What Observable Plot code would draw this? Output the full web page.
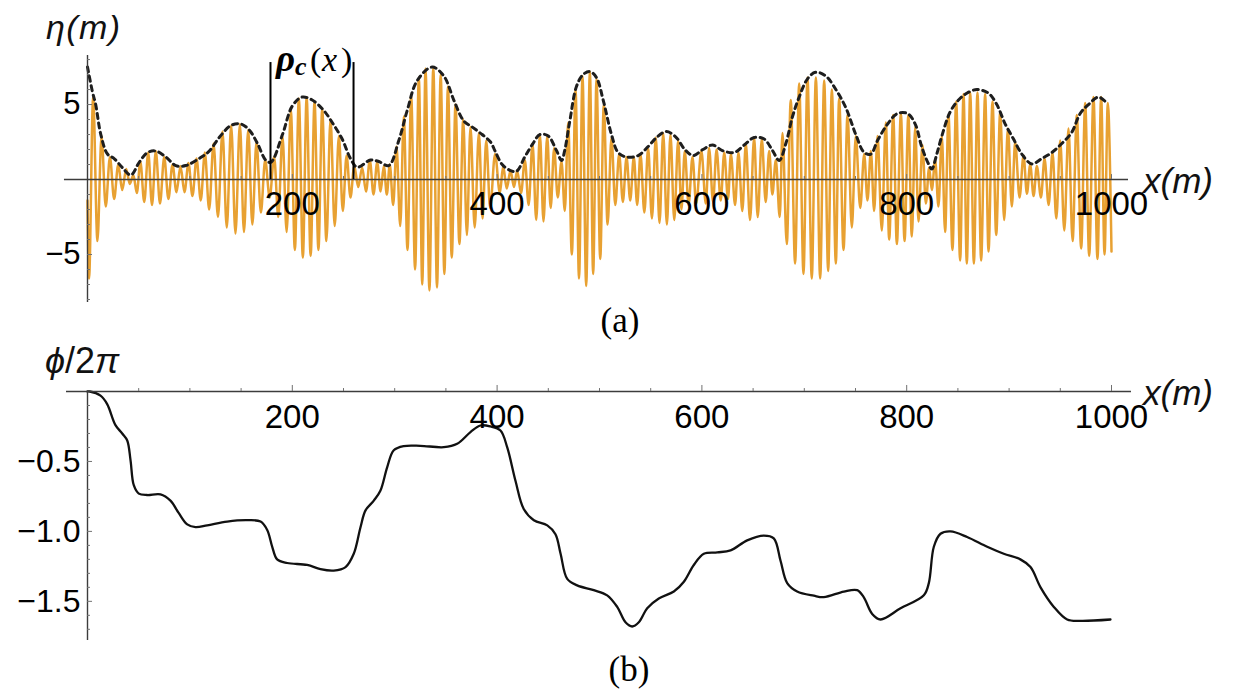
<!DOCTYPE html>
<html><head><meta charset="utf-8">
<script src="https://cdn.jsdelivr.net/npm/d3@7"></script>
<script src="https://cdn.jsdelivr.net/npm/@observablehq/plot@0.6"></script>
<style>
body{margin:0;background:#fff;}
#wrap{position:relative;width:1234px;height:695px;overflow:hidden;background:#fff;}
#pa{position:absolute;left:0;top:0;}
#pb{position:absolute;left:0;top:320px;}
#ov{position:absolute;left:0;top:0;pointer-events:none;}
</style></head><body>
<div id="wrap"><div id="pa"></div><div id="pb"></div>
<svg id="ov" width="1234" height="695">
  <text x="46" y="39" font-family="Liberation Sans, DejaVu Sans, Arial" font-style="italic" font-size="34" fill="#111" textLength="74">η(m)</text>
  <text x="1143" y="193" font-family="Liberation Sans, Arial" font-style="italic" font-size="35" fill="#111">x(m)</text>
  <text x="45" y="373" font-family="Liberation Sans, DejaVu Sans, Arial" font-size="36" fill="#111"><tspan font-style="italic">ϕ</tspan>/2<tspan font-style="italic">π</tspan></text>
  <text x="1143" y="405" font-family="Liberation Sans, Arial" font-style="italic" font-size="35" fill="#111">x(m)</text>
  <text x="620" y="332" text-anchor="middle" font-family="Liberation Serif, Times New Roman, serif" font-size="35" fill="#000">(a)</text>
  <text x="629" y="681" text-anchor="middle" font-family="Liberation Serif, Times New Roman, serif" font-size="35" fill="#000">(b)</text>
  <text y="71" font-family="Liberation Serif, Times New Roman, serif" fill="#000">
    <tspan x="276" font-size="37" font-weight="bold" font-style="italic">ρ</tspan><tspan x="295" dy="4" font-size="26" font-weight="bold" font-style="italic">c</tspan><tspan x="310" dy="-4" font-size="34">(</tspan><tspan x="322" font-size="34" font-style="italic">x</tspan><tspan x="341" font-size="34">)</tspan>
  </text>
</svg></div>
<script>
// ---------- panel (a): surface elevation ----------
// envelope rho(x) (dashed) [x m, eta m]
const envelope = [[0,7.5],[5,5.8],[8,5.0],[13,3.0],[19.5,1.7],[26,1.4],[34,0.8],[42.3,0.3],[50.5,1.15],[58.6,1.8],[66.7,1.9],[76.5,1.5],[86.3,0.93],[96,0.93],[109,1.4],[119,1.9],[128.6,2.8],[140,3.6],[149.7,3.7],[158,3.3],[166,2.4],[174,1.3],[179,1.15],[190.4,3.0],[200,4.9],[209.6,5.5],[219.4,5.3],[230.8,4.6],[239,3.8],[248.7,2.7],[256.8,1.4],[263.4,0.82],[276.4,1.3],[284.5,1.2],[294.2,0.93],[304,2.6],[312.2,4.6],[322,6.6],[336.6,7.5],[348,6.9],[357.7,5.3],[367.5,3.9],[375.7,3.5],[385.4,3.0],[393.6,2.5],[398,1.9],[405,1.0],[413,0.6],[419,0.55],[427,1.5],[435,2.4],[441.7,3.0],[450,2.9],[458,1.93],[463,1.27],[466,1.93],[471,3.9],[477.5,6.2],[484,7.0],[490.5,7.2],[497,6.8],[503.6,5.3],[511.7,3.0],[518.2,1.8],[526.4,1.5],[537.8,1.6],[547.5,2.2],[555.7,2.8],[565.4,3.2],[575,2.8],[583.3,2.0],[591.5,1.6],[601,2.0],[610.4,2.3],[620,1.93],[631.5,1.8],[641.3,2.3],[651,2.8],[660.8,2.7],[669,1.93],[675.5,1.27],[682,2.4],[688.5,4.2],[695,5.5],[703,6.7],[711,7.15],[721,6.9],[730.8,6.0],[740.5,4.8],[750.3,3.0],[758.5,1.8],[765,1.7],[771.5,2.6],[781.3,3.7],[791,4.4],[800.8,4.4],[808.3,3.7],[814.8,2.15],[821.3,1.04],[824.5,0.7],[829.4,1.7],[834.3,2.9],[842.4,4.5],[850.6,5.3],[858.7,5.75],[868.5,6.0],[879.9,5.75],[888,5.0],[896.2,3.7],[904.3,2.7],[912.4,1.7],[922.2,1.04],[932,1.4],[941.7,1.8],[951.5,2.4],[961.2,3.15],[969.4,4.4],[977.5,5.0],[987.3,5.5],[995.4,5.1]];

// extrema of the oscillating elevation eta(x) (orange) [x m, eta m]
const etaExtrema = [[0,-1.4],[1.5,-6.6],[5.5,5.5],[9.7,-4.1],[13.7,2.9],[17.8,-1.8],[21.9,1.5],[26,-1.3],[30,1.0],[33.9,-0.7],[37.8,0.7],[41.3,-0.3],[44.8,0.3],[48.2,-0.9],[51.6,1.2],[55.4,-1.5],[59.3,1.8],[63,-1.7],[66.7,1.9],[70.8,-1.6],[74.9,1.5],[79,-1.3],[83,1.0],[86.9,-0.85],[90.8,0.9],[94.7,-0.85],[98.6,1.1],[102.5,-1.1],[106.5,1.4],[110.6,-1.4],[114.6,1.8],[118.8,-2.0],[123.1,2.4],[127.4,-2.5],[131.8,3.2],[136,-3.2],[140.3,3.6],[144.5,-3.6],[148.8,3.7],[152.8,-3.5],[156.9,3.3],[161,-3.0],[165,2.5],[169.3,-2.2],[173.5,1.3],[177.9,-1.2],[182.3,1.5],[186.3,-2.5],[190.4,2.9],[194.5,-3.5],[198.6,4.6],
[202.5,-4.7],[206.4,5.4],[210.3,-5.2],[214,5.5],[217.9,-5.1],[221.7,5.2],[225.5,-4.7],[229.2,4.7],[233.3,-4.1],[237.3,4.0],[241.4,-3.1],[245.5,2.9],[249.3,-2.1],[253,1.6],[256.8,-1.2],[260.5,0.9],[264.4,-0.5],[268.2,0.8],[272,-0.8],[275.7,1.3],[279.3,-1.0],[282.9,1.15],[286.2,-0.8],[289.4,0.9],[292.3,-1.0],[295.2,1.0],[298.5,-1.7],[301.8,2.2],[305.4,-3.1],[308.9,4.2],[312.5,-4.7],[316.1,5.6],[319.9,-6.0],[323.6,6.8],[326.9,-7.0],[330.1,7.4],[333.9,-7.4],[337.7,7.5],[341.3,-7.2],[344.9,7.0],[348.5,-6.3],[352,6.2],[355.7,-5.2],[359.4,5.0],[363.2,-4.3],[366.9,4.0],[370.5,-3.7],[374,3.5],[378.1,-3.2],[382.2,3.1],[385.8,-2.6],[389.4,2.6],[393.2,-1.9],[398,1.7],
[402.7,-0.9],[405.9,0.9],[409.4,-0.6],[413.1,0.6],[416.5,-0.5],[419.6,0.6],[423.4,-0.9],[427.1,1.3],[430.8,-1.7],[434.6,2.4],[438.2,-2.7],[441.8,3.0],[445.3,-2.8],[448.9,2.9],[452.3,-1.9],[455.7,2.1],[459.2,-1.2],[462.9,1.2],[466.1,-2.1],[469.4,3.8],[473,-5.0],[476.6,6.0],[480,-6.6],[483.4,6.9],[487,-7.1],[490.6,7.2],[493.8,-6.3],[497.1,6.7],[500.7,-5.3],[504.2,5.0],[507.9,-3.0],[511.7,2.8],[515.4,-1.7],[519.2,1.7],[522.8,-1.5],[526.4,1.5],[530,-1.4],[533.5,1.5],[536.8,-1.7],[540,1.7],[543.8,-2.2],[547.5,2.1],[551.2,-2.6],[555,2.8],[558.6,-2.9],[562.2,3.1],[565.8,-3.0],[569.3,3.0],[573,-2.7],[576.8,2.6],[580,-2.0],[583.3,1.9],[587,-1.7],[590.8,1.5],[594.4,-1.6],[599.5,1.9],
[603.8,-1.6],[607,2.1],[610.9,-1.5],[614.3,2.0],[618.4,-1.4],[621.8,1.8],[625.5,-1.3],[628.3,1.7],[632.4,-1.7],[635.7,1.8],[639.5,-2.1],[642.9,2.4],[647,-2.7],[651,2.8],[654.5,-2.5],[658.5,2.7],[662.3,-1.5],[665.7,1.9],[668.8,-1.0],[672.2,1.3],[676,-2.5],[678.7,3.1],[682.9,-4.3],[686.8,5.3],[691,-5.6],[695,6.4],[699.2,-6.3],[703.1,6.8],[707.3,-6.6],[711.3,6.8],[715.5,-6.6],[719.4,6.6],[723.3,-6.1],[726.9,6.0],[730.8,-5.6],[734,5.4],[738.3,-4.7],[742.2,4.3],[746.4,-3.2],[750.3,2.9],[754.6,-1.9],[758.5,1.7],[761.7,-1.4],[765,1.9],[768.2,-2.1],[771.5,2.9],[775.7,-3.4],[779.6,3.8],[782.9,-4.0],[786.8,4.3],[790.4,-4.3],[794.3,4.4],[797.9,-4.1],[801.6,4.3],
[805,-3.8],[808.3,3.5],[811.5,-2.8],[815.4,2.3],[818.7,-1.6],[821.9,0.8],[824.5,-0.7],[827.8,1.3],[831,-1.8],[834.3,2.9],[837.5,-3.5],[840.8,4.3],[844.7,-4.7],[848.3,5.2],[852.2,-5.4],[855.5,5.7],[858.7,-5.6],[862,5.8],[865.6,-5.6],[869.1,5.8],[872.7,-5.4],[876.6,5.7],[879.9,-4.8],[883.8,5.2],[887.4,-3.7],[891.3,4.5],[895.2,-2.7],[898.8,3.4],[902.7,-1.8],[905.9,2.5],[910.2,-1.2],[914.1,1.6],[917.4,-0.95],[920.6,1.0],[923.9,-1.1],[927.1,0.9],[931.1,-1.2],[934.6,1.4],[938.6,-1.7],[942.4,1.8],[946.1,-2.6],[949.9,2.6],[953.9,-3.4],[958,3.4],[962,-4.1],[966.1,4.3],[970.4,-4.6],[974.3,5.1],[978.2,-5.1],[982.4,5.5],[986.3,-5.3],[989.9,5.5],[993.2,-5.0],[996.4,5.1],[1000,-4.8]];

// bounds of the rho_c(x) annotation [x m]
const rhoBounds = [178.7, 259.8];
const rhoTop = 7.8;

// ---------- panel (b): phase phi/2pi ----------
const phase = [[0,0],[2.2,0],[12.7,-0.03],[19.2,-0.09],[27.3,-0.24],[33.9,-0.30],[38.8,-0.35],[42,-0.49],[45.2,-0.67],[50.1,-0.73],[58.3,-0.74],[71.3,-0.735],[81,-0.78],[89.2,-0.87],[97.4,-0.95],[105.5,-0.97],[116.9,-0.957],[136.4,-0.93],[156,-0.92],[169,-0.93],[175.5,-0.99],[180.4,-1.11],[185.2,-1.2],[195,-1.226],[214.5,-1.24],[227.5,-1.27],[240.5,-1.28],[252,-1.255],[260,-1.16],[266.6,-0.97],[271.5,-0.85],[279.6,-0.78],[286,-0.71],[292.7,-0.54],[299.1,-0.42],[308.9,-0.39],[325,-0.388],[348,-0.398],[361,-0.374],[374,-0.29],[383.8,-0.243],[393.6,-0.25],[403.3,-0.279],[409.9,-0.4],[418,-0.64],[426,-0.84],[435.9,-0.92],[449,-0.957],[457,-1.02],[462,-1.16],[468.5,-1.34],[478.2,-1.386],[494.4,-1.42],[507.5,-1.457],[517.3,-1.54],[525.4,-1.65],[531.9,-1.68],[538.4,-1.65],[546.6,-1.55],[557.9,-1.48],[572.6,-1.43],[582.4,-1.36],[592.1,-1.24],[601.9,-1.16],[615,-1.15],[628,-1.136],[644.2,-1.064],[660.5,-1.03],[670.2,-1.05],[676.8,-1.21],[683.3,-1.37],[693,-1.43],[709.3,-1.46],[719,-1.47],[738.6,-1.43],[751.6,-1.42],[758,-1.47],[766.3,-1.59],[774.4,-1.63],[794,-1.55],[816.7,-1.457],[821.6,-1.37],[826.5,-1.11],[833,-1.017],[842.8,-1.0],[859,-1.04],[878.6,-1.11],[894.8,-1.16],[911,-1.2],[920.9,-1.255],[930.7,-1.40],[943.7,-1.54],[956.7,-1.63],[969.7,-1.64],[999,-1.63]];

// ticks
const xTickLabels = [200, 400, 600, 800, 1000];
const xMinorTicks = [50,100,150,250,300,350,450,500,550,650,700,750,850,900,950];
const yTickLabelsA = [5, -5];
const yMinorA = [-8,-7,-6,-4,-3,-2,-1,1,2,3,4,6,7,8];
const yTickLabelsB = [-0.5, -1.0, -1.5];
const yMinorB = [-0.1,-0.2,-0.3,-0.4,-0.6,-0.7,-0.8,-0.9,-1.1,-1.2,-1.3,-1.4,-1.6,-1.7];

const fmtMinus = s => s.replace("-", "\u2212");
const axisCol = "#3c3c3c";
const tickCol = "#707070";
const font = "Liberation Sans, Arial, sans-serif";

const plotA = Plot.plot({
  width: 1234, height: 310,
  marginLeft: 87, marginRight: 123, marginTop: 55, marginBottom: 8,
  x: {domain: [0, 1000], axis: null},
  y: {domain: [-8.2, 8.27], axis: null},
  style: {fontFamily: font, background: "transparent", overflow: "visible"},
  marks: [
    Plot.line(etaExtrema, {x: d => d[0], y: d => d[1], stroke: "#E8A132", strokeWidth: 2.5, curve: "monotone-x"}),
    Plot.line(envelope, {x: d => d[0], y: d => d[1], stroke: "#1e1e1e", strokeWidth: 3, strokeDasharray: "5,4.5", curve: "catmull-rom"}),
    Plot.ruleY([0], {x1: -22.5, x2: 1016.6, stroke: axisCol, strokeWidth: 1.4}),
    Plot.ruleX([0], {y1: -8.2, y2: 8.27, stroke: axisCol, strokeWidth: 1.4}),
    Plot.ruleX(xMinorTicks, {x: d => d, y1: 0, y2: 0.2, stroke: tickCol, strokeWidth: 1}),
    Plot.ruleX(xTickLabels, {x: d => d, y1: 0, y2: 0.33, stroke: tickCol, strokeWidth: 1}),
    Plot.ruleY(yMinorA, {y: d => d, x1: 0, x2: 2.9, stroke: tickCol, strokeWidth: 1}),
    Plot.ruleY(yTickLabelsA, {y: d => d, x1: 0, x2: 4.9, stroke: tickCol, strokeWidth: 1}),
    Plot.ruleX(rhoBounds, {x: d => d, y1: 0, y2: rhoTop, stroke: "#000", strokeWidth: 2}),
    Plot.text(xTickLabels, {x: d => d, y: 0, dy: 25, text: d => String(d), fontSize: 33, fill: "#000"}),
    Plot.text(yTickLabelsA, {x: 0, y: d => d, dx: -7, textAnchor: "end", text: d => fmtMinus(String(d)), fontSize: 31, fill: "#000"})
  ]
});
document.getElementById("pa").appendChild(plotA);

const plotB = Plot.plot({
  width: 1234, height: 375,
  marginLeft: 87, marginRight: 123, marginTop: 71, marginBottom: 55,
  x: {domain: [0, 1000], axis: null},
  y: {domain: [-1.78, 0], axis: null},
  style: {fontFamily: font, background: "transparent", overflow: "visible"},
  marks: [
    Plot.line(phase, {x: d => d[0], y: d => d[1], stroke: "#111", strokeWidth: 2.3, curve: "catmull-rom"}),
    Plot.ruleY([0], {x1: -20.5, x2: 1019.5, stroke: axisCol, strokeWidth: 1.4}),
    Plot.ruleX([0], {y1: 0, y2: -1.78, stroke: axisCol, strokeWidth: 1.4}),
    Plot.ruleX(xMinorTicks, {x: d => d, y1: 0, y2: 0.021, stroke: tickCol, strokeWidth: 1}),
    Plot.ruleX(xTickLabels, {x: d => d, y1: 0, y2: 0.043, stroke: tickCol, strokeWidth: 1}),
    Plot.ruleY(yMinorB, {y: d => d, x1: 0, x2: 2.9, stroke: tickCol, strokeWidth: 1}),
    Plot.ruleY(yTickLabelsB, {y: d => d, x1: 0, x2: 4.9, stroke: tickCol, strokeWidth: 1}),
    Plot.text(xTickLabels, {x: d => d, y: 0, dy: 26, text: d => String(d), fontSize: 33, fill: "#000"}),
    Plot.text(yTickLabelsB, {x: 0, y: d => d, dx: -7, textAnchor: "end", text: d => fmtMinus(d.toFixed(1)), fontSize: 32, fill: "#000"})
  ]
});
document.getElementById("pb").appendChild(plotB);
</script>
</body></html>
